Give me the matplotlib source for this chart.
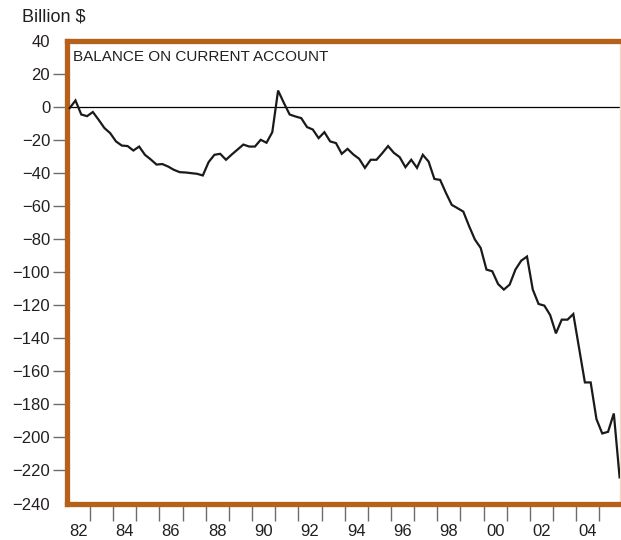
"""
U.S. balance on current account, quarterly, 1982-2005 (billion $).
"""

import numpy as np
import matplotlib
matplotlib.use("Agg")
import matplotlib.pyplot as plt
from matplotlib.ticker import FixedLocator, NullFormatter, FixedFormatter

# ── data, 1982Q1 ... 2005Q4 ───────────────────────────────────────────────
FIRST_YEAR = 1982
BALANCE = [
    -0.6, 4.0, -4.5, -5.5,            # 1982
    -3.0, -7.7, -12.7, -15.8,         # 1983
    -20.8, -23.3, -23.6, -26.3,       # 1984
    -23.9, -28.9, -31.7, -34.8,       # 1985
    -34.5, -36.0, -38.0, -39.4,       # 1986
    -39.6, -40.0, -40.4, -41.4,       # 1987
    -33.3, -28.9, -28.3, -31.9,       # 1988
    -28.7, -25.7, -22.7, -23.9,       # 1989
    -23.9, -19.8, -21.6, -15.2,       # 1990
    10.0, 2.5, -4.5, -5.7,            # 1991
    -6.7, -12.1, -13.6, -18.8,        # 1992
    -15.2, -20.8, -21.8, -28.3,       # 1993
    -25.3, -28.7, -31.3, -36.8,       # 1994
    -31.9, -31.9, -27.9, -23.6,       # 1995
    -27.7, -30.3, -36.4, -31.9,       # 1996
    -36.8, -28.9, -33.0, -43.5,       # 1997
    -44.1, -52.0, -59.2, -61.2,       # 1998
    -63.3, -72.1, -80.2, -85.3,       # 1999
    -98.4, -99.4, -107.1, -110.5,     # 2000
    -107.5, -98.4, -93.0, -90.5,      # 2001
    -110.5, -119.2, -120.2, -125.9,   # 2002
    -137.0, -128.7, -128.7, -125.3,   # 2003
    -146.0, -166.7, -166.7, -188.9,   # 2004
    -197.6, -196.6, -185.5, -224.2,   # 2005
]
Y_TICKS = list(range(-240, 41, 20))
YEAR_LABELS = ["82", "84", "86", "88", "90", "92", "94", "96", "98", "00", "02", "04"]

ORANGE = "#B5611C"
TEXT = "#231f20"
TICK = "#6d6d6d"

plt.rcParams.update({
    "font.family": ["Liberation Sans", "DejaVu Sans"],
    "font.size": 12,
    "text.color": TEXT,
    "axes.labelcolor": TEXT,
    "xtick.color": TICK,
    "ytick.color": TICK,
    "xtick.labelcolor": TEXT,
    "ytick.labelcolor": TEXT,
})

W, H = 621, 540
fig = plt.figure(figsize=(W / 100, H / 100), dpi=100)
left, right, top, bottom = 66.8, 619.5, 41.0, 503.5
ax = fig.add_axes([left / W, 1 - bottom / H, (right - left) / W, (bottom - top) / H])

vals = np.array(BALANCE)
x = FIRST_YEAR + (np.arange(len(vals)) + 0.5) / 4.0

ax.axhline(0, color="black", linewidth=0.9, zorder=2)
ax.plot(x, vals, color="#1a1a1a", linewidth=1.6, zorder=3, solid_joinstyle="miter")

ax.set_xlim(1982.0, 2005.87)
ax.set_ylim(-240, 40)

# spines: thick orange frame, thin pale right edge
for side in ("left", "top", "bottom"):
    ax.spines[side].set_color(ORANGE)
    ax.spines[side].set_linewidth(3.8)
ax.spines["right"].set_color("#f3d9c2")
ax.spines["right"].set_linewidth(1.0)

# y axis
ax.set_yticks(Y_TICKS)
ax.set_yticklabels([str(v).replace("-", "\u2212") for v in Y_TICKS])
ax.tick_params(axis="y", length=10, width=1.0, pad=2, labelsize=12)
yt = ax.yaxis.get_major_ticks()
yt[0].tick1line.set_visible(False)
yt[-1].tick1line.set_visible(False)

# x axis: ticks at year boundaries, labels mid-year for even years
ax.xaxis.set_major_locator(FixedLocator(np.arange(1983, 2006)))
ax.xaxis.set_major_formatter(NullFormatter())
ax.xaxis.set_minor_locator(FixedLocator(np.arange(1982.5, 2005, 2)))
ax.xaxis.set_minor_formatter(FixedFormatter(YEAR_LABELS))
ax.tick_params(axis="x", which="major", length=12, width=1.0)
ax.tick_params(axis="x", which="minor", length=0, pad=15, labelsize=12)

fig.text(22 / W, 1 - 17 / H, "Billion $", ha="left", va="center", fontsize=13)
fig.text(73 / W, 1 - 57 / H, "BALANCE ON CURRENT ACCOUNT", ha="left", va="center",
         fontsize=11)

fig.savefig("out.png", dpi=100)
